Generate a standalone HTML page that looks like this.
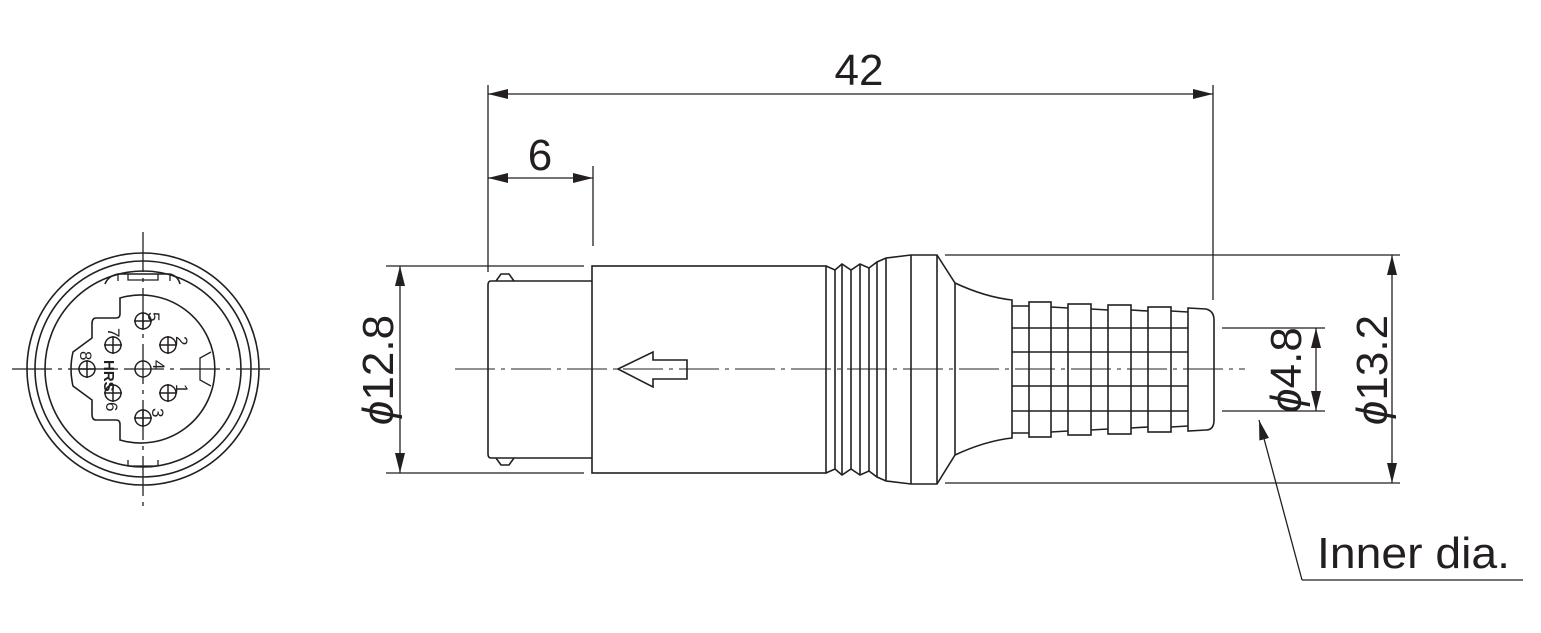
<!DOCTYPE html>
<html><head><meta charset="utf-8"><style>html,body{margin:0;padding:0;background:#fff}svg{display:block}text{font-family:"Liberation Sans",sans-serif;fill:#231f20}</style></head>
<body>
<svg width="1541" height="633" viewBox="0 0 1541 633" xmlns="http://www.w3.org/2000/svg">
<defs>
<marker id="a" viewBox="0 0 20 10" refX="20" refY="5" markerWidth="20" markerHeight="10" markerUnits="userSpaceOnUse" orient="auto-start-reverse"><path d="M0,0 L20,5 L0,10 Z" fill="#231f20"/></marker>
</defs>
<g stroke="#231f20" fill="none" stroke-width="1.3">
<line x1="12" y1="369" x2="270" y2="369" stroke-dasharray="40,6,4,6"/>
<line x1="143" y1="232" x2="143" y2="508" stroke-dasharray="40,6,4,6"/>
<circle cx="143" cy="369" r="116" stroke-width="1.6"/>
<circle cx="143" cy="369" r="108" stroke-width="1.6"/>
<circle cx="143" cy="369" r="98" stroke-width="1.6"/>
<path d="M105,284 Q108,276 118,274 L170,274 Q178,276 180,284" stroke-width="1.6"/>
<line x1="118" y1="274" x2="118" y2="281"/><line x1="170" y1="274" x2="170" y2="281"/>
<path d="M128,274 L128,280 L158,280 L158,274"/>
<path d="M128,460 L128,466 L158,466 L158,460"/>
<path d="M120,298 A74,74 0 1 1 120,440 L120,424 Q120,420 116,420 L96,420 Q92,420 92,414 L92,400 L73,386 A74,74 0 0 1 73,352 L92,338 L92,324 Q92,318 96,318 L116,318 Q120,318 120,314 Z" stroke-width="1.6"/>
<path d="M211,352 L200,358 L200,380 L211,386"/>
<g stroke-width="1.5">
<circle cx="143" cy="321" r="8"/><circle cx="168" cy="345" r="8"/><circle cx="113" cy="345" r="8"/>
<circle cx="87" cy="369" r="8"/><circle cx="143" cy="369" r="8"/><circle cx="168" cy="393" r="8"/>
<circle cx="113" cy="393" r="8"/><circle cx="143" cy="418" r="8"/>
<line x1="134" y1="321" x2="152" y2="321"/><line x1="143" y1="312" x2="143" y2="330"/>
<line x1="159" y1="345" x2="177" y2="345"/><line x1="168" y1="336" x2="168" y2="354"/>
<line x1="104" y1="345" x2="122" y2="345"/><line x1="113" y1="336" x2="113" y2="354"/>
<line x1="78" y1="369" x2="96" y2="369"/><line x1="87" y1="360" x2="87" y2="378"/>
<line x1="159" y1="393" x2="177" y2="393"/><line x1="168" y1="384" x2="168" y2="402"/>
<line x1="104" y1="393" x2="122" y2="393"/><line x1="113" y1="384" x2="113" y2="402"/>
<line x1="134" y1="418" x2="152" y2="418"/><line x1="143" y1="409" x2="143" y2="427"/>
</g>
<line x1="455" y1="369" x2="1245" y2="369" stroke-dasharray="40,6,4,6" stroke-width="1.1"/>
<line x1="488" y1="85" x2="488" y2="272"/>
<line x1="1213" y1="85" x2="1213" y2="300"/>
<line x1="488" y1="94" x2="1213" y2="94" marker-start="url(#a)" marker-end="url(#a)"/>
<line x1="593" y1="166" x2="593" y2="246"/>
<line x1="488" y1="178" x2="593" y2="178" marker-start="url(#a)" marker-end="url(#a)"/>
<line x1="386" y1="266" x2="584" y2="266"/><line x1="386" y1="473" x2="584" y2="473"/>
<line x1="400" y1="266" x2="400" y2="473" marker-start="url(#a)" marker-end="url(#a)"/>
<line x1="945" y1="255" x2="1400" y2="255"/><line x1="945" y1="483" x2="1400" y2="483"/>
<line x1="1392" y1="255" x2="1392" y2="483" marker-start="url(#a)" marker-end="url(#a)"/>
<line x1="1222" y1="328" x2="1325" y2="328"/><line x1="1222" y1="411" x2="1325" y2="411"/>
<line x1="1316" y1="328" x2="1316" y2="411" marker-start="url(#a)" marker-end="url(#a)"/>
<polyline points="1302,580 1523,580"/>
<line x1="1302" y1="580" x2="1259" y2="420" marker-end="url(#a)"/>
<g stroke-width="1.6">
<path d="M592,281 L491,281 Q488,281 488,285 L488,454 Q488,458 491,458 L592,458"/>
<path d="M496,281 L501,274 L509,274 L514,281"/>
<path d="M496,458 L501,465 L509,465 L514,458"/>
<rect x="592" y="266" width="234" height="207"/>
<path d="M618,369 L653,352 L653,360 L687,360 L687,379 L653,379 L653,387 Z"/>
<path d="M826,266 L835,270 L842,264 L851,270 L860,264 L869,268 L877,262 L886,258 L911,255 L937,255 L955,283 Q985,297 1012,300 L1012,438 Q985,441 955,455 L937,484 L911,484 L886,481 L877,477 L869,471 L860,475 L851,469 L842,475 L835,469 L826,473"/>
<line x1="835" y1="270" x2="835" y2="469"/><line x1="842" y1="264" x2="842" y2="475"/>
<line x1="851" y1="270" x2="851" y2="469"/><line x1="860" y1="264" x2="860" y2="475"/>
<line x1="869" y1="268" x2="869" y2="471"/><line x1="877" y1="262" x2="877" y2="477"/>
<line x1="886" y1="258" x2="886" y2="481"/><line x1="911" y1="255" x2="911" y2="484"/>
<line x1="937" y1="255" x2="937" y2="484"/><line x1="955" y1="283" x2="955" y2="455"/>
<path d="M1012,306 L1029,306 M1012,433 L1029,433"/>
<rect x="1029" y="302" width="22" height="135"/>
<path d="M1051,307 L1068,308 M1051,432 L1068,431"/>
<rect x="1068" y="304" width="23" height="131"/>
<path d="M1091,309 L1108,310 M1091,430 L1108,429"/>
<rect x="1108" y="305" width="23" height="129"/>
<path d="M1131,310 L1148,311 M1131,428 L1148,427"/>
<rect x="1148" y="307" width="23" height="125"/>
<path d="M1171,311 L1188,312 M1171,427 L1188,426"/>
<path d="M1188,308 L1206,309 Q1214,311 1214,320 L1214,420 Q1214,430 1206,430 L1188,431 Z"/>
<path d="M1012,328 L1188,328 M1012,352 L1188,352 M1012,386 L1188,386 M1012,411 L1188,411"/>
</g>
</g>
<g font-size="17">
<text x="148" y="312" transform="rotate(90 148 312)">5</text>
<text x="176" y="336" transform="rotate(90 176 336)">2</text>
<text x="108" y="328" transform="rotate(90 108 328)">7</text>
<text x="80" y="351" transform="rotate(90 80 351)">8</text>
<text x="153" y="360" transform="rotate(90 153 360)">4</text>
<text x="176" y="384" transform="rotate(90 176 384)">1</text>
<text x="106" y="402" transform="rotate(90 106 402)">6</text>
<text x="152" y="408" transform="rotate(90 152 408)">3</text>
<text x="104" y="360" transform="rotate(90 104 360)" font-weight="bold" font-size="15">HRS</text>
</g>
<g font-size="44">
<text x="859" y="85" text-anchor="middle">42</text>
<text x="540" y="170" text-anchor="middle">6</text>
<text x="393" y="370" text-anchor="middle" transform="rotate(-90 393 370)"><tspan font-style="italic">ϕ</tspan>12.8</text>
<text x="1387" y="370" text-anchor="middle" transform="rotate(-90 1387 370)"><tspan font-style="italic">ϕ</tspan>13.2</text>
<text x="1301" y="370" text-anchor="middle" transform="rotate(-90 1301 370)"><tspan font-style="italic">ϕ</tspan>4.8</text>
<text x="1317" y="568" textLength="193" lengthAdjust="spacingAndGlyphs">Inner dia.</text>
</g>
</svg>
</body></html>
